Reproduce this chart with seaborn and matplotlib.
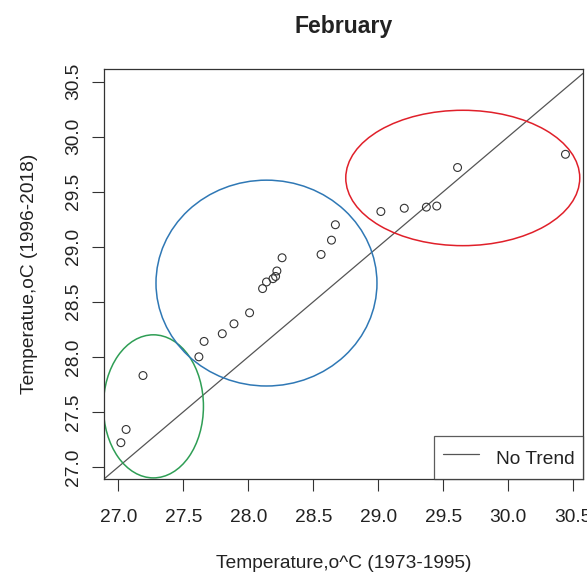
import numpy as np
import pandas as pd
import seaborn as sns
import matplotlib.pyplot as plt
from matplotlib.patches import Ellipse

# February mean temperature, period 1 (1973-1995) vs period 2 (1996-2018)
temp_1973_1995 = [27.02, 27.06, 27.19, 27.62, 27.66, 27.80, 27.89, 28.01,
                  28.11, 28.14, 28.19, 28.21, 28.22, 28.26, 28.56, 28.64,
                  28.67, 29.02, 29.20, 29.37, 29.45, 29.61, 30.44]
temp_1996_2018 = [27.22, 27.34, 27.83, 28.00, 28.14, 28.21, 28.30, 28.40,
                  28.62, 28.68, 28.71, 28.73, 28.78, 28.90, 28.93, 29.06,
                  29.20, 29.32, 29.35, 29.36, 29.37, 29.72, 29.84]

# cluster ellipses drawn over the scatter (centre x, centre y, width, height)
cluster_x = [27.27, 28.14, 29.65]
cluster_y = [27.55, 28.67, 29.625]
cluster_w = [0.77, 1.70, 1.80]
cluster_h = [1.30, 1.87, 1.23]
cluster_colors = ["#2f9e55", "#2f78b5", "#e0202a"]

ticks = [27.0, 27.5, 28.0, 28.5, 29.0, 29.5, 30.0, 30.5]

df = pd.DataFrame({"p1": temp_1973_1995, "p2": temp_1996_2018})

sns.set_theme(style="white")
plt.rcParams["font.family"] = ["Liberation Sans", "DejaVu Sans"]
txt = "#222222"

fig = plt.figure(figsize=(5.87, 5.80), dpi=100)
ax = fig.add_axes([104 / 587, 1 - 479 / 580, 479 / 587, 410 / 580])

sns.scatterplot(data=df, x="p1", y="p2", ax=ax, marker="o", s=32,
                facecolor="none", edgecolor="#333333", linewidth=0.8, zorder=3)

ax.axline((27, 27), slope=1, color="#555555", lw=0.9, label="No Trend", zorder=2)

for cx, cy, w, h, c in zip(cluster_x, cluster_y, cluster_w, cluster_h, cluster_colors):
    ax.add_patch(Ellipse((cx, cy), w, h, fill=False, edgecolor=c, lw=1.1, zorder=2))

ax.set_xlim(26.89, 30.575)
ax.set_ylim(26.89, 30.615)
ax.set_xticks(ticks)
ax.set_yticks(ticks)
ax.set_xticklabels([f"{t:.1f}" for t in ticks])
ax.set_yticklabels([f"{t:.1f}" for t in ticks], rotation=90, va="center")

for s in ax.spines.values():
    s.set_color("#333333")
    s.set_linewidth(0.9)

ax.tick_params(axis="both", which="major", length=8.6, width=0.8, color="#333333",
               labelsize=13.8, labelcolor=txt, direction="out",
               bottom=True, left=True)
ax.tick_params(axis="x", pad=13)
ax.tick_params(axis="y", pad=7)

ax.set_xlabel("Temperature,o^C (1973-1995)", fontsize=13.8, color=txt, labelpad=21)
ax.set_ylabel("Temperatue,oC (1996-2018)", fontsize=13.8, color=txt, labelpad=20)
ax.set_title("February", fontsize=16.6, fontweight="bold", color=txt, pad=26)

leg = ax.legend(loc="lower right", fontsize=13.8, frameon=True, fancybox=False,
                borderaxespad=0, borderpad=0.45, handlelength=1.9,
                handleheight=1.7, handletextpad=0.85, labelcolor=txt)
leg.get_frame().set_edgecolor("#333333")
leg.get_frame().set_linewidth(0.9)

fig.savefig("out.png", dpi=100)
